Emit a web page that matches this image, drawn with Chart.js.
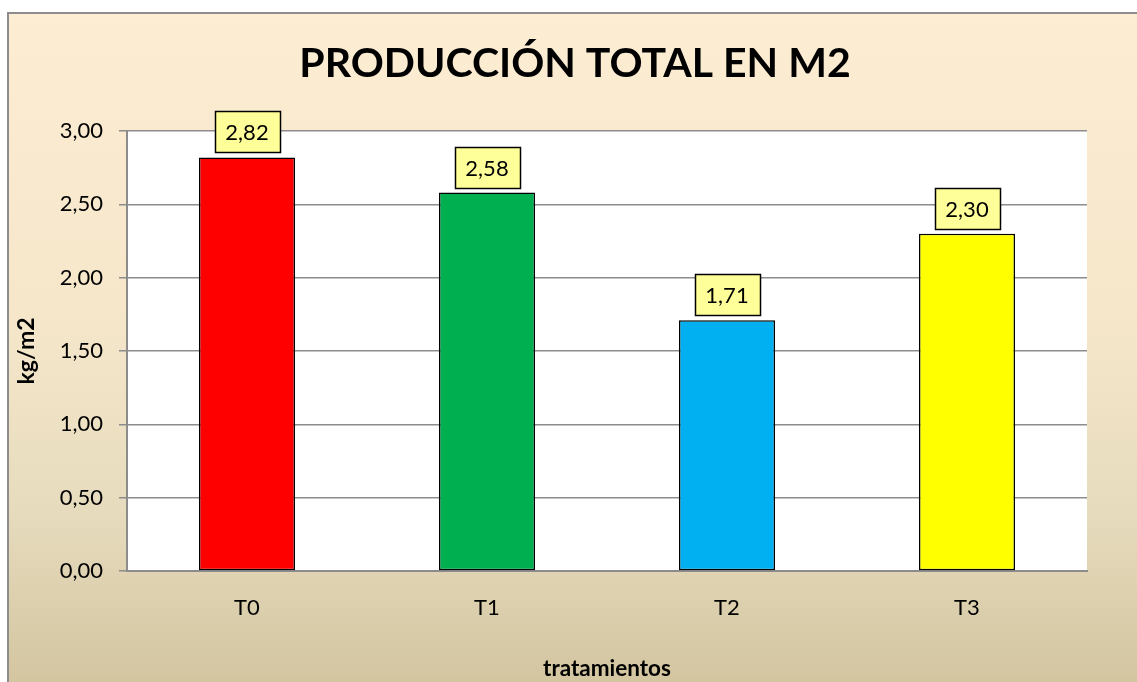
<!DOCTYPE html>
<html>
<head>
<meta charset="utf-8">
<script src="https://cdn.jsdelivr.net/npm/chart.js@4/dist/chart.umd.min.js"></script>
<style>
  html, body { margin: 0; padding: 0; background: #fff; overflow: hidden; }
  canvas { display: block; }
</style>
</head>
<body>
<canvas id="bar" width="1137" height="682"></canvas>
<script>
const categories = ["T0", "T1", "T2", "T3"];
const produccion = [2.82, 2.58, 1.71, 2.30];
const barColors = ["#ff0000", "#00b050", "#00b0f0", "#ffff00"];
const yMin = 0;
const yMax = 3;
const yStep = 0.5;
const chartTitle = "PRODUCCIÓN TOTAL EN M2";

const fmt = (v) => v.toFixed(2).replace(".", ",");
const FONT = "Lato, 'Open Sans', sans-serif";

// fondo degradado, marco, area blanca y titulo
const bgPlugin = {
  id: "bg",
  beforeDraw(chart) {
    const { ctx, width, height, chartArea } = chart;
    ctx.save();
    ctx.fillStyle = "#ffffff";
    ctx.fillRect(0, 0, width, height);
    const g = ctx.createLinearGradient(0, 12, 0, height);
    g.addColorStop(0, "#fcedd3");
    g.addColorStop(0.45, "#f6e7cb");
    g.addColorStop(0.75, "#e6dbbd");
    g.addColorStop(1, "#d3c5a0");
    ctx.fillStyle = g;
    ctx.fillRect(7, 12, width, height);
    ctx.strokeStyle = "#8c8c8c";
    ctx.lineWidth = 2;
    ctx.beginPath();
    ctx.moveTo(8, height + 5);
    ctx.lineTo(8, 13);
    ctx.lineTo(width + 5, 13);
    ctx.stroke();
    ctx.fillStyle = "#ffffff";
    ctx.fillRect(chartArea.left, chartArea.top, chartArea.right - chartArea.left, chartArea.bottom - chartArea.top);

    ctx.fillStyle = "#000";
    ctx.font = "bold 41px " + FONT;
    ctx.textAlign = "center";
    ctx.textBaseline = "middle";
    ctx.fillText(chartTitle, 575, 64);
    ctx.restore();
  },
};

// etiquetas de datos en cajas amarillas
const labelPlugin = {
  id: "valueBoxes",
  afterDatasetsDraw(chart) {
    const { ctx } = chart;
    const meta = chart.getDatasetMeta(0);
    ctx.save();
    ctx.font = "22px " + FONT;
    ctx.textAlign = "center";
    ctx.textBaseline = "middle";
    meta.data.forEach((bar, i) => {
      const w = 65, h = 41;
      const x = Math.round(bar.x - w / 2) + 0.5;
      const y = Math.round(bar.y - 5 - h) + 0.5;
      ctx.fillStyle = "#ffff99";
      ctx.fillRect(x, y, w, h);
      ctx.strokeStyle = "#000";
      ctx.lineWidth = 1.5;
      ctx.strokeRect(x, y, w, h);
      ctx.fillStyle = "#000";
      ctx.fillText(fmt(produccion[i]), bar.x, y + h / 2 + 1);
    });
    ctx.restore();
  },
};

const chart = new Chart(document.querySelector("#bar"), {
  type: "bar",
  data: {
    labels: categories,
    datasets: [
      {
        label: "kg/m2",
        data: produccion,
        backgroundColor: barColors,
        borderColor: "#000",
        borderWidth: 1.5,
        borderSkipped: false,
        barPercentage: 0.4,
        categoryPercentage: 1,
      },
    ],
  },
  options: {
    responsive: false,
    maintainAspectRatio: false,
    animation: false,
    devicePixelRatio: 1,
    layout: { padding: { left: 0, right: 50, top: 131, bottom: 0 } },
    plugins: {
      legend: { display: false },
      tooltip: { enabled: false },
      title: { display: false },
    },
    scales: {
      x: {
        grid: { display: false, drawTicks: false },
        border: { display: true, color: "#8c8c8c", width: 2 },
        ticks: { color: "#000", padding: 24, font: { family: FONT, size: 22 } },
        title: {
          display: true,
          text: "tratamientos",
          color: "#000",
          font: { family: FONT, size: 22.5, weight: "bold" },
          padding: { top: 0, bottom: 0 },
        },
        afterFit: (s) => { s.height = 111; },
      },
      y: {
        min: yMin,
        max: yMax,
        grid: { color: "#8c8c8c", lineWidth: 1.5, tickLength: 8, tickColor: "#8c8c8c" },
        border: { display: true, color: "#8c8c8c", width: 2 },
        ticks: {
          stepSize: yStep,
          color: "#000",
          padding: 16,
          font: { family: FONT, size: 22 },
          callback: (v) => fmt(v),
        },
        title: {
          display: true,
          text: "kg/m2",
          color: "#000",
          font: { family: FONT, size: 23, weight: "bold" },
          padding: { top: 13, bottom: 0 },
        },
        afterFit: (s) => { s.width = 127; },
      },
    },
  },
  plugins: [bgPlugin, labelPlugin],
});
</script>
</body>
</html>
